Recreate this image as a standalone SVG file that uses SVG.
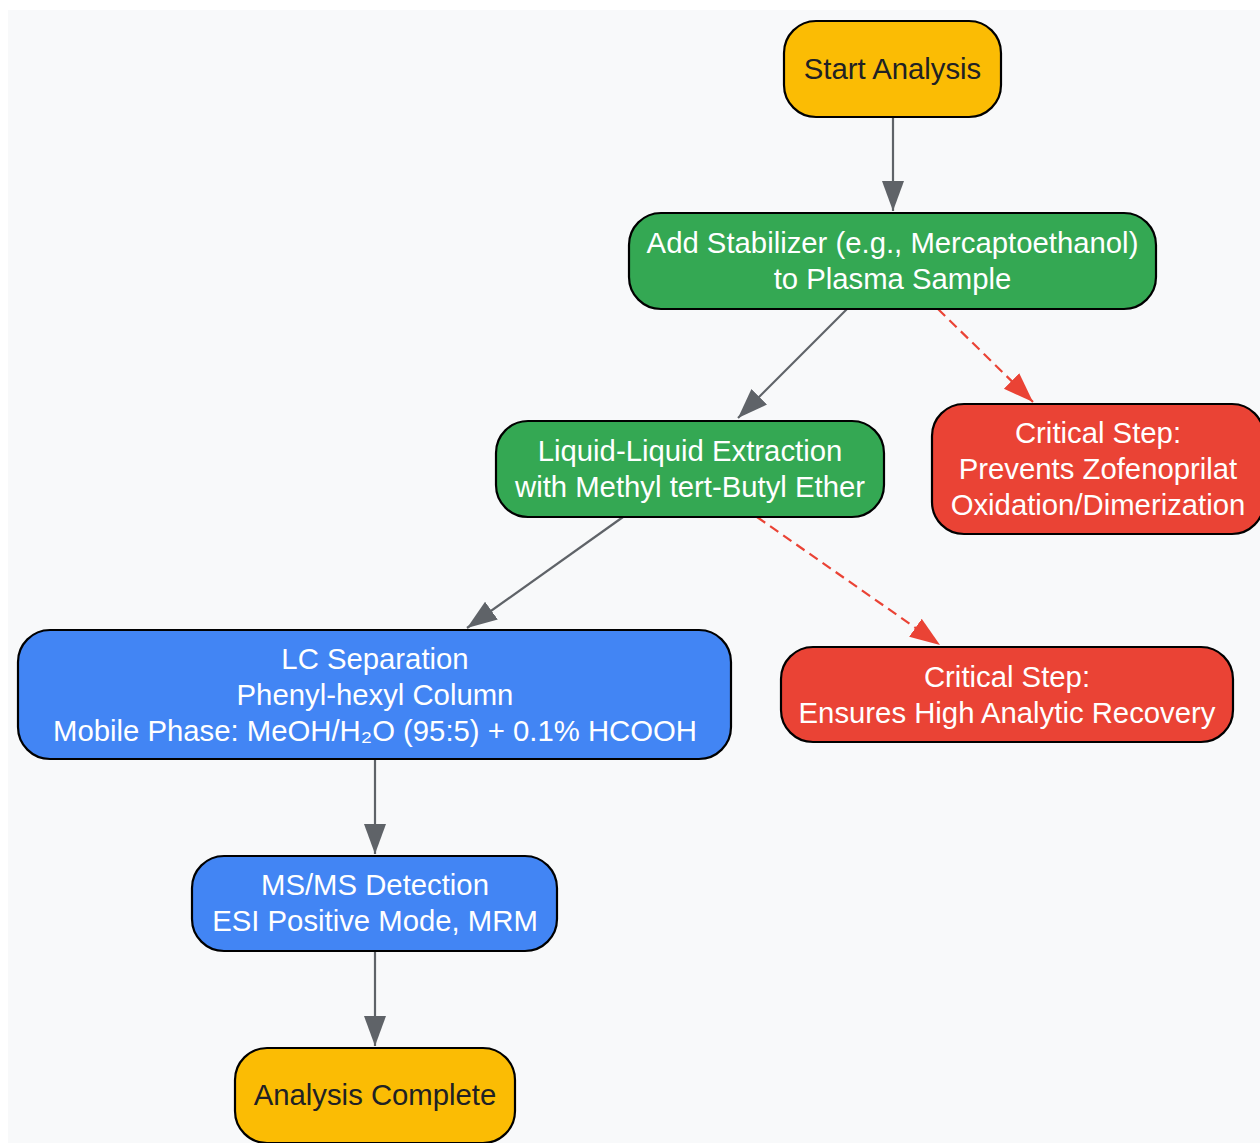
<svg xmlns="http://www.w3.org/2000/svg" width="1260" height="1143" viewBox="0 0 1260 1143">
<style>
.node rect{stroke:#000;stroke-width:2.2}
.y rect{fill:#fbbc04}
.g rect{fill:#34a853}
.b rect{fill:#4285f4}
.r rect{fill:#ea4335}
text{font-family:"Liberation Sans",Arial,sans-serif;font-size:29.3px;text-anchor:middle}
.y text{fill:#202124}
.g text,.b text,.r text{fill:#fff}
.e{fill:none;stroke-width:2.2}
.n{stroke:#5f6368}
.d{stroke:#ea4335;stroke-dasharray:10,6}
</style>
<defs>
<marker id="ag" markerUnits="userSpaceOnUse" markerWidth="32" markerHeight="24" refX="30" refY="11" orient="auto"><path d="M0,0 L30,11 L0,22 Z" fill="#5f6368"/></marker>
<marker id="ar" markerUnits="userSpaceOnUse" markerWidth="32" markerHeight="24" refX="30" refY="11" orient="auto"><path d="M0,0 L30,11 L0,22 Z" fill="#ea4335"/></marker>
</defs>
<rect x="8" y="10" width="1252" height="1133" fill="#f8f9fa"/>
<g id="edges">
<path class="e n" d="M893,117 L893,211" marker-end="url(#ag)"/>
<path class="e n" d="M847,309 L738,418" marker-end="url(#ag)"/>
<path class="e d" d="M938,309 L1033,402" marker-end="url(#ar)"/>
<path class="e n" d="M623,517 L467,628" marker-end="url(#ag)"/>
<path class="e d" d="M757,517 L940,645" marker-end="url(#ar)"/>
<path class="e n" d="M375,759 L375,854" marker-end="url(#ag)"/>
<path class="e n" d="M375,951 L375,1046" marker-end="url(#ag)"/>
</g>
<g id="start" class="node y"><rect x="784" y="21" width="217" height="96" rx="32"/><text x="892.5" y="79">Start Analysis</text></g>
<g id="stabilizer" class="node g"><rect x="629" y="213" width="527" height="96" rx="32"/><text x="892.5" y="253">Add Stabilizer (e.g., Mercaptoethanol)</text><text x="892.5" y="289">to Plasma Sample</text></g>
<g id="lle" class="node g"><rect x="496" y="421" width="388" height="96" rx="32"/><text x="690" y="461">Liquid-Liquid Extraction</text><text x="690" y="497">with Methyl tert-Butyl Ether</text></g>
<g id="crit1" class="node r"><rect x="932" y="404" width="332" height="130" rx="32"/><text x="1098" y="443">Critical Step:</text><text x="1098" y="479">Prevents Zofenoprilat</text><text x="1098" y="515">Oxidation/Dimerization</text></g>
<g id="lc" class="node b"><rect x="18" y="630" width="713" height="129" rx="32"/><text x="375" y="669">LC Separation</text><text x="375" y="705">Phenyl-hexyl Column</text><text x="375" y="741">Mobile Phase: MeOH/H₂O (95:5) + 0.1% HCOOH</text></g>
<g id="crit2" class="node r"><rect x="781" y="647" width="452" height="95" rx="32"/><text x="1007" y="687">Critical Step:</text><text x="1007" y="723">Ensures High Analytic Recovery</text></g>
<g id="msms" class="node b"><rect x="192" y="856" width="365" height="95" rx="32"/><text x="375" y="895">MS/MS Detection</text><text x="375" y="931">ESI Positive Mode, MRM</text></g>
<g id="complete" class="node y"><rect x="235" y="1048" width="280" height="95" rx="32"/><text x="375" y="1105">Analysis Complete</text></g>
</svg>
